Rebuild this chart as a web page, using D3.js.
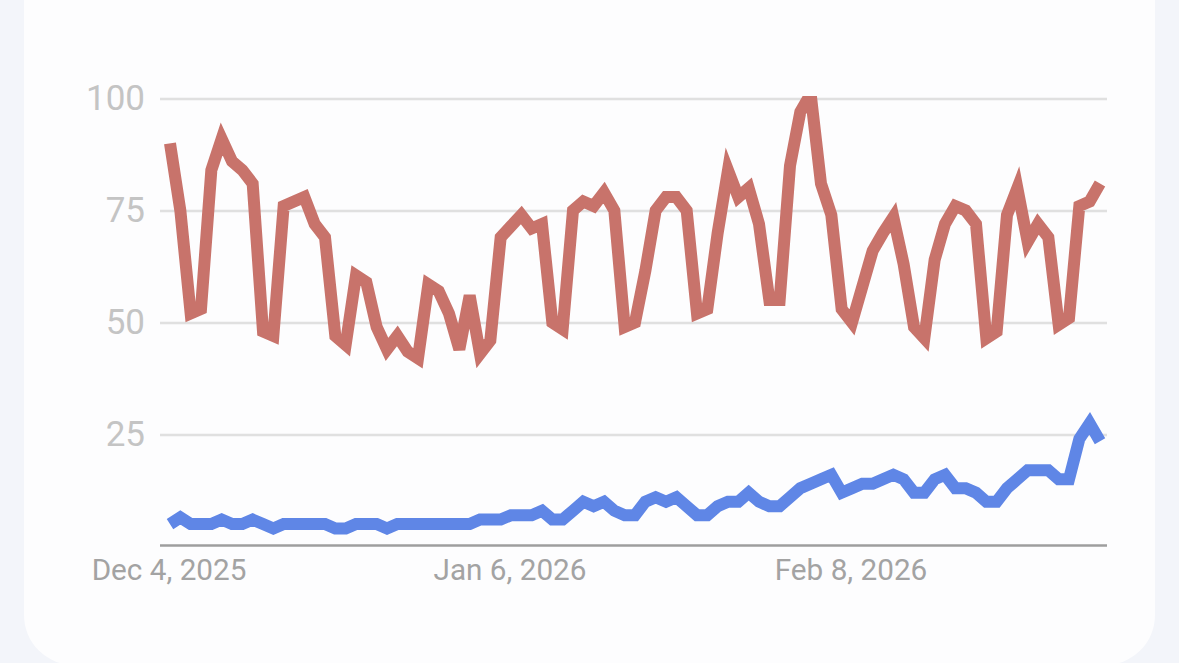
<!DOCTYPE html>
<html>
<head>
<meta charset="utf-8">
<style>
html,body{margin:0;padding:0;background:#f3f5fa;width:1179px;height:663px;overflow:hidden}
svg{display:block}
text{font-family:Roboto,sans-serif}
</style>
<script src="https://cdn.jsdelivr.net/npm/d3@7/dist/d3.min.js"></script>
</head>
<body>
<svg id="c" width="1179" height="663"></svg>
<script>
const startDate = "2025-12-04";
const xTickDates = ["2025-12-04","2026-01-06","2026-02-08"];
const yTicks = [25,50,75,100];
const redValues = [90,75,52,53,84,91,86,84,81,48,47,76,77,78,72,69,47,45,60.5,59,49,44,47,43.5,42,58.5,57,52,44,56,43,46,69,71.5,74,71,72,50,48.5,75,77,76,79,75,49,50,61.5,75,78,78,75,52,53,70,84,78,80,72,55,55,85,97,101,81,74,53,50,58,66,70,73.5,63,49,46.5,64,72,76,75,72,46.5,48,74,80,68,72,69,49.5,51,76,77,81];
const blueValues = [5,6.5,5,5,5,6,5,5,6,5,4,5,5,5,5,5,4,4,5,5,5,4,5,5,5,5,5,5,5,5,6,6,6,7,7,7,8,6,6,8,10,9,10,8,7,7,10,11,10,11,9,7,7,9,10,10,12,10,9,9,11,13,14,15,16,12,13,14,14,15,16,15,12,12,15,16,13,13,12,10,10,13,15,17,17,17,15,15,24,27.5,23.5];
const parse = d3.utcParse("%Y-%m-%d");
const day0 = parse(startDate);
const dates = redValues.map((_,i)=>d3.utcDay.offset(day0,i));

const svg = d3.select("#c");
svg.append("rect").attr("x",24).attr("y",-80).attr("width",1131).attr("height",745).attr("rx",50).attr("fill","#fdfdfe");

const left=160,right=1107,top0=98.5,base=546.5;
const x = d3.scaleUtc().domain([day0,dates[dates.length-1]]).range([170,1100]);
const y = d3.scaleLinear().domain([0,100]).range([base,top0]);

// gridlines + y labels
const gy = svg.append("g").attr("transform",`translate(${left},0)`)
  .call(d3.axisLeft(y).tickValues(yTicks).tickSize(-(right-left)).tickPadding(15));
gy.select(".domain").remove();
gy.selectAll("line").attr("stroke","#e0e0e0").attr("stroke-width",2.5);
gy.selectAll("text").attr("fill","#c4c4c4").style("font-size","35px").attr("font-family","Roboto,sans-serif");

// baseline + x labels
const fmt = d3.utcFormat("%b %-d, %Y");
const gx = svg.append("g").attr("transform",`translate(0,${base-1})`)
  .call(d3.axisBottom(x).tickValues(xTickDates.map(parse)).tickFormat(fmt).tickSize(0).tickPadding(10));
gx.select(".domain").remove();
gx.append("line").attr("x1",left).attr("x2",right).attr("stroke","#9e9e9e").attr("stroke-width",2.5);
gx.selectAll("text").attr("fill","#a3a3a3").style("font-size","29.7px").attr("font-family","Roboto,sans-serif").attr("dx",-1.5).attr("dy","0.82em");

// clip
svg.append("clipPath").attr("id","pl").append("rect").attr("x",left).attr("y",96).attr("width",right-left).attr("height",base-96);

const line = d3.line().x((d,i)=>x(dates[i])).y(d=>y(d));
const plot = svg.append("g").attr("clip-path","url(#pl)");
[[redValues,"#c8736b"],[blueValues,"#5f86e6"]].forEach(([v,c])=>{
  plot.append("path").attr("d",line(v)).attr("fill","none").attr("stroke",c)
    .attr("stroke-width",12).attr("stroke-linejoin","miter").attr("stroke-miterlimit",4).attr("stroke-linecap","butt");
});
</script>
</body>
</html>
